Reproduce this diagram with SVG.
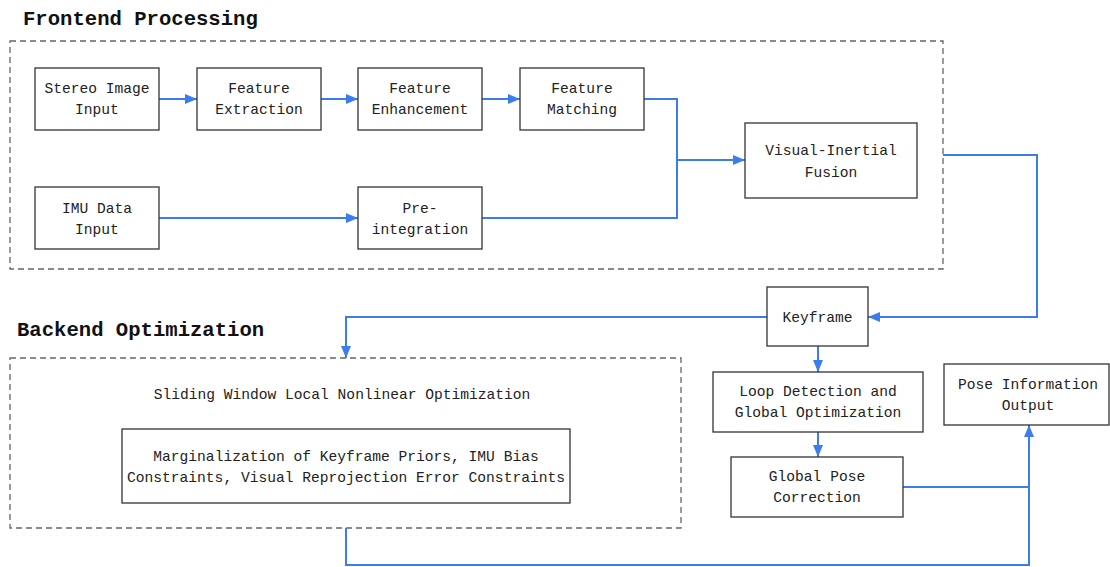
<svg xmlns="http://www.w3.org/2000/svg" width="1110" height="567" viewBox="0 0 1110 567">
<defs>
<style>
.box{fill:#fff;stroke:#333;stroke-width:1.3}
.grp{fill:none;stroke:#666;stroke-width:1.3;stroke-dasharray:6 4}
.t{font-family:"Liberation Mono","DejaVu Sans Mono",monospace;font-size:14.6px;fill:#222;text-anchor:middle}
.title{font-family:"Liberation Mono","DejaVu Sans Mono",monospace;font-size:20.6px;font-weight:bold;fill:#111}
.c{fill:none;stroke:#3b7cf0;stroke-width:2}
.ca{fill:none;stroke:#3b7cf0;stroke-width:2;marker-end:url(#ah)}
</style>
<marker id="ah" markerUnits="userSpaceOnUse" markerWidth="13" markerHeight="11" refX="12" refY="5" orient="auto">
<path d="M0,0 L12,5 L0,10 Z" fill="#3b7cf0"/>
</marker>
</defs>
<rect width="1110" height="567" fill="#fff"/>
<g id="frontend-group">
<rect class="grp" x="10" y="41" width="933" height="228"/>
<text class="title" x="23" y="25">Frontend Processing</text>
</g>
<g id="backend-group">
<rect class="grp" x="10" y="358" width="671" height="170"/>
<text class="title" x="17" y="336">Backend Optimization</text>
<text class="t" x="342" y="399">Sliding Window Local Nonlinear Optimization</text>
</g>
<g id="connectors">
<path class="ca" d="M159,99 H197"/>
<path class="ca" d="M321,99 H358"/>
<path class="ca" d="M482,99 H520"/>
<path class="c" d="M644,99 H677 V218 H482"/>
<path class="ca" d="M677,160 H745"/>
<path class="ca" d="M159,218 H358"/>
<path class="ca" d="M943,155 H1037 V317 H868"/>
<path class="ca" d="M767,317 H346 V358"/>
<path class="ca" d="M818,346 V372"/>
<path class="ca" d="M818,432 V457"/>
<path class="c" d="M903,487 H1029"/>
<path class="ca" d="M346,528 V565 H1029 V425"/>
</g>
<g id="stereo">
<rect class="box" x="35" y="68" width="124" height="62"/>
<text class="t" x="97" y="93">Stereo Image</text>
<text class="t" x="97" y="114">Input</text>
</g>
<g id="feature-extraction">
<rect class="box" x="197" y="68" width="124" height="62"/>
<text class="t" x="259" y="93">Feature</text>
<text class="t" x="259" y="114">Extraction</text>
</g>
<g id="feature-enhancement">
<rect class="box" x="358" y="68" width="124" height="62"/>
<text class="t" x="420" y="93">Feature</text>
<text class="t" x="420" y="114">Enhancement</text>
</g>
<g id="feature-matching">
<rect class="box" x="520" y="68" width="124" height="62"/>
<text class="t" x="582" y="93">Feature</text>
<text class="t" x="582" y="114">Matching</text>
</g>
<g id="imu">
<rect class="box" x="35" y="187" width="124" height="62"/>
<text class="t" x="97" y="212.5">IMU Data</text>
<text class="t" x="97" y="234">Input</text>
</g>
<g id="preintegration">
<rect class="box" x="358" y="187" width="124" height="62"/>
<text class="t" x="420" y="212.5">Pre-</text>
<text class="t" x="420" y="234">integration</text>
</g>
<g id="vi-fusion">
<rect class="box" x="745" y="123" width="172" height="75"/>
<text class="t" x="831" y="155">Visual-Inertial</text>
<text class="t" x="831" y="176.5">Fusion</text>
</g>
<g id="keyframe">
<rect class="box" x="767" y="287" width="101" height="59"/>
<text class="t" x="817.5" y="322">Keyframe</text>
</g>
<g id="marginalization">
<rect class="box" x="122" y="429" width="448" height="74"/>
<text class="t" x="346" y="460.5">Marginalization of Keyframe Priors, IMU Bias</text>
<text class="t" x="346" y="481.5">Constraints, Visual Reprojection Error Constraints</text>
</g>
<g id="loop-detection">
<rect class="box" x="713" y="372" width="210" height="60"/>
<text class="t" x="818" y="396">Loop Detection and</text>
<text class="t" x="818" y="417">Global Optimization</text>
</g>
<g id="global-pose">
<rect class="box" x="731" y="457" width="172" height="60"/>
<text class="t" x="817" y="480.5">Global Pose</text>
<text class="t" x="817" y="501.5">Correction</text>
</g>
<g id="pose-output">
<rect class="box" x="944" y="364" width="165" height="61"/>
<text class="t" x="1028" y="389">Pose Information</text>
<text class="t" x="1028" y="410">Output</text>
</g>
</svg>
